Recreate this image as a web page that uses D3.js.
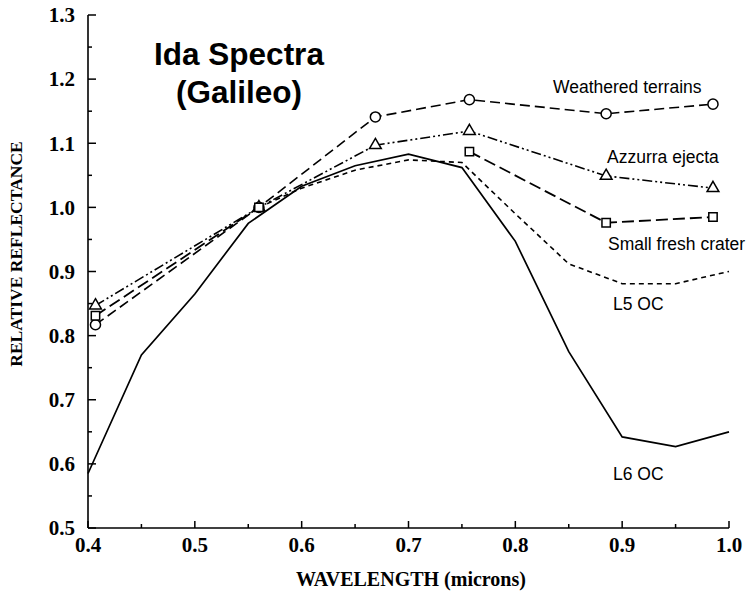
<!DOCTYPE html>
<html>
<head>
<meta charset="utf-8">
<script src="https://cdn.jsdelivr.net/npm/d3@7"></script>
<style>
  body { margin:0; background:#fff; }
  svg { display:block; }
</style>
</head>
<body>
<div id="plot"></div>
<script>
// data
var filters = [0.407, 0.56, 0.669, 0.757, 0.885, 0.985];
var weathered = [0.817, 1.0, 1.141, 1.168, 1.146, 1.161];
var azzurra = [0.847, 1.0, 1.097, 1.119, 1.049, 1.030];
var smallCrater = [0.831, 1.0, null, 1.087, 0.976, 0.985];

var labWave5 = [0.56, 0.6, 0.65, 0.7, 0.75, 0.8, 0.85, 0.9, 0.95, 1.0];
var l5 = [1.0, 1.03, 1.058, 1.074, 1.070, 0.99, 0.912, 0.881, 0.881, 0.90];
var labWave6 = [0.4, 0.45, 0.5, 0.55, 0.6, 0.65, 0.7, 0.75, 0.8, 0.85, 0.9, 0.95, 1.0];
var l6 = [0.585, 0.77, 0.865, 0.975, 1.033, 1.065, 1.083, 1.062, 0.947, 0.775, 0.642, 0.627, 0.65];

var xTicks = [0.4, 0.5, 0.6, 0.7, 0.8, 0.9, 1.0];
var yTicks = [0.5, 0.6, 0.7, 0.8, 0.9, 1.0, 1.1, 1.2, 1.3];

var W = 755, H = 594;
var margin = {t:15, r:26, b:66, l:88};
var width = W - margin.l - margin.r,
    height = H - margin.t - margin.b;

var svg = d3.select('#plot').append('svg')
  .attr('width', W).attr('height', H);
var plot = svg.append('g')
  .attr('transform', 'translate(' + margin.l + ',' + margin.t + ')');

var x = d3.scaleLinear().domain([0.4, 1.0]).range([0, width]);
var y = d3.scaleLinear().domain([0.5, 1.3]).range([height, 0]);

var serif = '"Liberation Serif", "DejaVu Serif", serif';
var sans = '"Liberation Sans", Arial, sans-serif';

// x axis, ticks point inward (major every 0.1, minor every 0.05)
var gx = plot.append('g').attr('transform', 'translate(0,' + height + ')');
gx.append('line').attr('x1', 0).attr('x2', width).attr('stroke', '#000').attr('stroke-width', 1.6);
d3.range(0.4, 1.001, 0.05).forEach(function(v, i) {
  gx.append('line')
    .attr('x1', x(v)).attr('x2', x(v))
    .attr('y1', 0).attr('y2', i % 2 == 0 ? -7 : -4)
    .attr('stroke', '#000').attr('stroke-width', 1.5);
});
gx.selectAll('text.tl').data(xTicks).enter().append('text')
  .attr('x', function(d){ return x(d); })
  .attr('y', 24)
  .attr('text-anchor', 'middle')
  .style('font-family', serif).style('font-weight', 'bold').style('font-size', '21px')
  .text(function(d){ return d.toFixed(1); });

// y axis
var gy = plot.append('g');
gy.append('line').attr('y1', 0).attr('y2', height).attr('stroke', '#000').attr('stroke-width', 1.6);
d3.range(0.5, 1.301, 0.05).forEach(function(v, i) {
  gy.append('line')
    .attr('y1', y(v)).attr('y2', y(v))
    .attr('x1', 0).attr('x2', i % 2 == 0 ? 8 : 4)
    .attr('stroke', '#000').attr('stroke-width', 1.5);
});
gy.selectAll('text.tl').data(yTicks).enter().append('text')
  .attr('x', -13)
  .attr('y', function(d){ return y(d); })
  .attr('dy', '0.35em')
  .attr('text-anchor', 'end')
  .style('font-family', serif).style('font-weight', 'bold').style('font-size', '21px')
  .text(function(d){ return d.toFixed(1); });

// axis titles
svg.append('text')
  .attr('x', 411).attr('y', 586)
  .attr('text-anchor', 'middle')
  .style('font-family', serif).style('font-weight', 'bold').style('font-size', '20px')
  .text('WAVELENGTH (microns)');
svg.append('text')
  .attr('transform', 'translate(22,254) rotate(-90)')
  .attr('text-anchor', 'middle')
  .style('font-family', serif).style('font-weight', 'bold').style('font-size', '17.5px')
  .text('RELATIVE REFLECTANCE');

// lines
var line = d3.line()
  .defined(function(d){ return d[1] != null; })
  .x(function(d){ return x(d[0]); })
  .y(function(d){ return y(d[1]); });

function pairs(xs, ys) { return xs.map(function(v, i){ return [v, ys[i]]; }); }

var series = [
  {vals: l6, xs: labWave6, dash: null, w: 1.7},
  {vals: l5, xs: labWave5, dash: '5,4', w: 1.6},
  {vals: smallCrater, xs: filters, dash: '12,5', w: 1.8},
  {vals: azzurra, xs: filters, dash: '10,3,2,3,2,3', w: 1.6},
  {vals: weathered, xs: filters, dash: '10,5', w: 1.6}
];
series.forEach(function(s) {
  plot.append('path')
    .datum(pairs(s.xs, s.vals))
    .attr('d', line)
    .attr('fill', 'none')
    .attr('stroke', '#000')
    .attr('stroke-width', s.w)
    .attr('stroke-dasharray', s.dash);
});

// markers
var mk = [
  {vals: weathered, type: d3.symbolCircle, size: 80},
  {vals: azzurra, type: d3.symbolTriangle, size: 60},
  {vals: smallCrater, type: d3.symbolSquare, size: 70}
];
mk.forEach(function(m) {
  plot.selectAll(null)
    .data(pairs(filters, m.vals).filter(function(d){ return d[1] != null; }))
    .enter().append('path')
    .attr('d', d3.symbol().type(m.type).size(m.size))
    .attr('transform', function(d){ return 'translate(' + x(d[0]) + ',' + y(d[1]) + ')'; })
    .attr('fill', '#fff')
    .attr('stroke', '#000')
    .attr('stroke-width', 1.5);
});

// title and series labels
var title = svg.append('text')
  .attr('text-anchor', 'middle')
  .style('font-family', sans).style('font-weight', 'bold').style('font-size', '31.5px');
title.append('tspan').attr('x', 239).attr('y', 65).text('Ida Spectra');
title.append('tspan').attr('x', 239).attr('y', 103).text('(Galileo)');

var labels = ['Weathered terrains', 'Azzurra ejecta', 'Small fresh crater', 'L5 OC', 'L6 OC'];
var labelX = [553, 607, 608, 613, 613];
var labelY = [93, 163, 250, 310, 480];
labels.forEach(function(t, i) {
  svg.append('text')
    .attr('x', labelX[i]).attr('y', labelY[i])
    .style('font-family', sans).style('font-size', '17.5px')
    .text(t);
});
</script>
</body>
</html>
